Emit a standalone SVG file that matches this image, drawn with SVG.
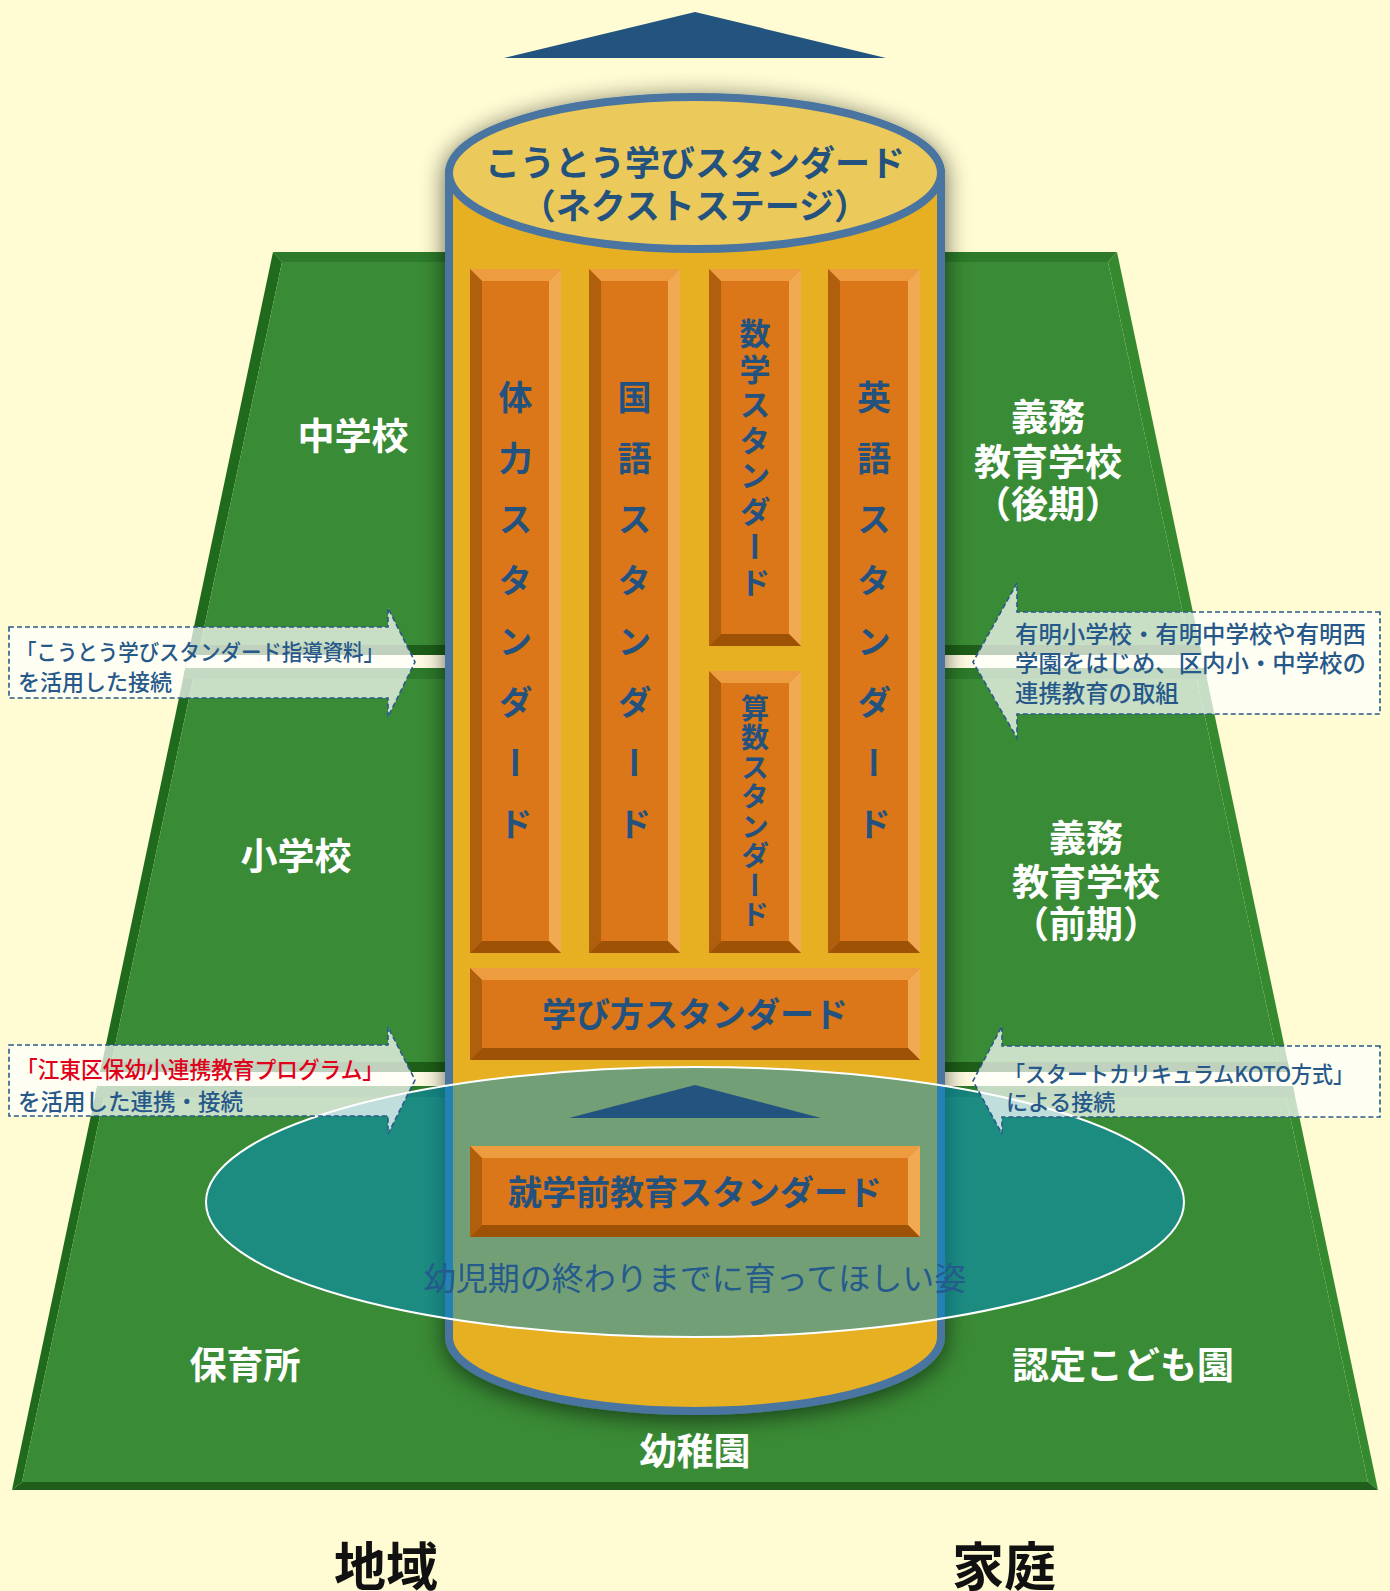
<svg xmlns="http://www.w3.org/2000/svg" width="1390" height="1591" viewBox="0 0 1390 1591">
<defs>
<style>
.jp{font-family:'Noto Sans CJK JP','Noto Sans',sans-serif}
.lbl{font-family:'Noto Sans CJK JP',sans-serif;font-weight:bold;fill:#ffffff;font-size:37px;text-anchor:middle;dominant-baseline:central}
.bt{fill:#ee9c40}.bl{fill:#b0600c}.br{fill:#f2aa52}.bb{fill:#9e5206}.bf{fill:#db7619}
.bartxt{font-family:'Noto Sans CJK JP',sans-serif;font-weight:bold;fill:#23527f;text-anchor:middle;dominant-baseline:central}
.vt{writing-mode:vertical-rl}
.arrow{fill:#ffffff;fill-opacity:0.72;stroke:#2a5a8a;stroke-width:1.6;stroke-dasharray:5 3}
.atxt{font-family:'Noto Sans CJK JP',sans-serif;font-weight:500;fill:#26588a;dominant-baseline:central}
</style>
<filter id="sh" x="-20%" y="-10%" width="140%" height="120%">
<feGaussianBlur in="SourceAlpha" stdDeviation="12"/>
<feOffset dx="0" dy="4"/>
<feComponentTransfer><feFuncA type="linear" slope="0.6"/></feComponentTransfer>
<feMerge><feMergeNode/><feMergeNode in="SourceGraphic"/></feMerge>
</filter>
<clipPath id="trap"><polygon points="273,252 1117,252 1378,1490 12,1490"/></clipPath>
</defs>

<rect x="0" y="0" width="1390" height="1591" fill="#fffbd2"/>

<!-- green base trapezoid -->
<g id="base">
<polygon points="273,252 1117,252 1108,262 282,262" fill="#2c7a2a"/>
<polygon points="273,252 282,262 22,1482 12,1490" fill="#1f6a1d"/>
<polygon points="1117,252 1378,1490 1368,1482 1108,262" fill="#358a30"/>
<polygon points="12,1490 1378,1490 1368,1482 22,1482" fill="#1f5e1b"/>
<polygon points="282,262 1108,262 1368,1482 22,1482" fill="#3a8b35"/>
<g clip-path="url(#trap)">
<rect x="0" y="645" width="1390" height="10" fill="#1d5e18"/>
<rect x="0" y="655" width="1390" height="13" fill="#fffbe2"/>
<rect x="0" y="668" width="1390" height="11" fill="#2c7a2a"/>
<rect x="0" y="1062" width="1390" height="10" fill="#1d5e18"/>
<rect x="0" y="1072" width="1390" height="14" fill="#fffbe2"/>
<rect x="0" y="1086" width="1390" height="11" fill="#2c7a2a"/>
</g>
</g>

<!-- cylinder -->
<g id="cylinder" filter="url(#sh)">
<path d="M449,173 L449,1337 A246,74 0 0 0 941,1337 L941,173 Z" fill="#e6b022" stroke="#4a75a0" stroke-width="8"/>
<ellipse cx="695" cy="173" rx="246" ry="76" fill="#ebc95a" stroke="#4a75a0" stroke-width="8"/>
</g>
<g id="cyl-title">
<text class="bartxt" x="695" y="160" font-size="35">こうとう学びスタンダード</text>
<text class="bartxt" x="695" y="203" font-size="35">（ネクストステージ）</text>
</g>

<!-- bars -->
<g id="bar-taiiku">
<rect class="bf" x="470" y="269" width="91" height="684"/>
<polygon class="bt" points="470,269 561,269 549,281 482,281"/>
<polygon class="bl" points="470,269 482,281 482,941 470,953"/>
<polygon class="br" points="561,269 561,953 549,941 549,281"/>
<polygon class="bb" points="470,953 561,953 549,941 482,941"/>
<text class="bartxt vt" x="515.5" y="624" font-size="34" letter-spacing="27">体力スタンダード</text>
</g>
<g id="bar-kokugo">
<rect class="bf" x="589" y="269" width="91" height="684"/>
<polygon class="bt" points="589,269 680,269 668,281 601,281"/>
<polygon class="bl" points="589,269 601,281 601,941 589,953"/>
<polygon class="br" points="680,269 680,953 668,941 668,281"/>
<polygon class="bb" points="589,953 680,953 668,941 601,941"/>
<text class="bartxt vt" x="634.5" y="624" font-size="34" letter-spacing="27">国語スタンダード</text>
</g>
<g id="bar-sugaku">
<rect class="bf" x="709" y="269" width="92" height="377"/>
<polygon class="bt" points="709,269 801,269 789,281 721,281"/>
<polygon class="bl" points="709,269 721,281 721,634 709,646"/>
<polygon class="br" points="801,269 801,646 789,634 789,281"/>
<polygon class="bb" points="709,646 801,646 789,634 721,634"/>
<text class="bartxt vt" x="755" y="460" font-size="31" letter-spacing="4.5">数学スタンダード</text>
</g>
<g id="bar-sansu">
<rect class="bf" x="709" y="671" width="92" height="282"/>
<polygon class="bt" points="709,671 801,671 789,683 721,683"/>
<polygon class="bl" points="709,671 721,683 721,941 709,953"/>
<polygon class="br" points="801,671 801,953 789,941 789,683"/>
<polygon class="bb" points="709,953 801,953 789,941 721,941"/>
<text class="bartxt vt" x="755" y="812" font-size="28" letter-spacing="1.5">算数スタンダード</text>
</g>
<g id="bar-eigo">
<rect class="bf" x="828" y="269" width="92" height="684"/>
<polygon class="bt" points="828,269 920,269 908,281 840,281"/>
<polygon class="bl" points="828,269 840,281 840,941 828,953"/>
<polygon class="br" points="920,269 920,953 908,941 908,281"/>
<polygon class="bb" points="828,953 920,953 908,941 840,941"/>
<text class="bartxt vt" x="874" y="624" font-size="34" letter-spacing="27">英語スタンダード</text>
</g>
<g id="bar-manabikata">
<rect class="bf" x="470" y="968" width="450" height="92"/>
<polygon class="bt" points="470,968 920,968 908,980 482,980"/>
<polygon class="bl" points="470,968 482,980 482,1048 470,1060"/>
<polygon class="br" points="920,968 920,1060 908,1048 908,980"/>
<polygon class="bb" points="470,1060 920,1060 908,1048 482,1048"/>
<text class="bartxt" x="695" y="1012" font-size="34">学び方スタンダード</text>
</g>

<!-- teal ellipse -->
<g id="ellipse-youji">
<ellipse cx="695" cy="1202" rx="489" ry="135" fill="#008dcb" fill-opacity="0.5" stroke="#ffffff" stroke-width="2"/>
<polygon points="695,1085 821,1118 569,1118" fill="#23537f"/>
</g>
<g id="bar-shugakumae">
<rect class="bf" x="470" y="1146" width="450" height="91"/>
<polygon class="bt" points="470,1146 920,1146 908,1158 482,1158"/>
<polygon class="bl" points="470,1146 482,1158 482,1225 470,1237"/>
<polygon class="br" points="920,1146 920,1237 908,1225 908,1158"/>
<polygon class="bb" points="470,1237 920,1237 908,1225 482,1225"/>
<text class="bartxt" x="695" y="1190" font-size="34">就学前教育スタンダード</text>
</g>
<text x="695" y="1276" class="jp" font-size="32" fill="#245a8c" text-anchor="middle" dominant-baseline="central">幼児期の終わりまでに育ってほしい姿</text>

<!-- connectors (arrows) -->
<g id="connectors">
<polygon class="arrow" points="9,627 388,627 388,608 415,662 388,717 388,698 9,698"/>
<polygon class="arrow" points="1380,612 1017,612 1017,583 973,662 1017,738 1017,714 1380,714"/>
<polygon class="arrow" points="9,1045 388,1045 388,1027 415,1080 388,1134 388,1116 9,1116"/>
<polygon class="arrow" points="1380,1046 1002,1046 1002,1026 973,1081 1002,1134 1002,1117 1380,1117"/>
<polygon points="695,12 886,58 504,58" fill="#23537f"/>
</g>

<g id="note-left1">
<text class="atxt" x="16" y="650" font-size="22" textLength="368" lengthAdjust="spacingAndGlyphs">「こうとう学びスタンダード指導資料」</text>
<text class="atxt" x="18" y="680" font-size="22">を活用した接続</text>
</g>
<g id="note-right1">
<text class="atxt" x="1015" y="633" font-size="23.4">有明小学校・有明中学校や有明西</text>
<text class="atxt" x="1015" y="662" font-size="23.4">学園をはじめ、区内小・中学校の</text>
<text class="atxt" x="1015" y="692" font-size="23.4">連携教育の取組</text>
</g>
<g id="note-left2">
<text class="atxt" x="16" y="1068" font-size="22.5" style="fill:#e0001a" textLength="368" lengthAdjust="spacingAndGlyphs">「江東区保幼小連携教育プログラム」</text>
<text class="atxt" x="18" y="1100" font-size="22.5">を活用した連携・接続</text>
</g>
<g id="note-right2">
<text class="atxt" x="1004" y="1072" font-size="22" textLength="350" lengthAdjust="spacingAndGlyphs">「スタートカリキュラムKOTO方式」</text>
<text class="atxt" x="1006" y="1100" font-size="22">による接続</text>
</g>

<!-- school labels -->
<g id="labels">
<text class="lbl" x="353" y="434">中学校</text>
<text class="lbl" x="1048" y="415">義務</text>
<text class="lbl" x="1048" y="460">教育学校</text>
<text class="lbl" x="1048" y="502">（後期）</text>
<text class="lbl" x="296" y="854">小学校</text>
<text class="lbl" x="1086" y="836">義務</text>
<text class="lbl" x="1086" y="880">教育学校</text>
<text class="lbl" x="1086" y="922">（前期）</text>
<text class="lbl" x="245" y="1363">保育所</text>
<text class="lbl" x="1123" y="1363">認定こども園</text>
<text class="lbl" x="695" y="1449">幼稚園</text>
</g>
<g id="bottom-labels">
<text x="386" y="1563" class="jp" font-size="52" font-weight="bold" fill="#111111" text-anchor="middle" dominant-baseline="central">地域</text>
<text x="1004" y="1563" class="jp" font-size="52" font-weight="bold" fill="#111111" text-anchor="middle" dominant-baseline="central">家庭</text>
</g>
</svg>
